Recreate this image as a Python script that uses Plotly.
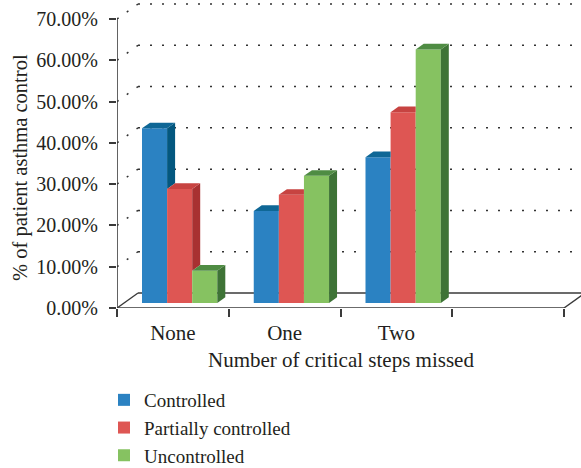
import plotly.graph_objects as go

# ---- data ----
categories = ["None", "One", "Two"]
series_names = ["Controlled", "Partially controlled", "Uncontrolled"]
controlled = [42.3, 22.3, 35.3]
partially_controlled = [27.6, 26.2, 46.2]
uncontrolled = [7.8, 30.8, 61.4]
y_ticks = [0, 10, 20, 30, 40, 50, 60, 70]
y_tick_labels = [f"{v:.2f}%" for v in y_ticks]
n_slots = 4
x_title = "Number of critical steps missed"
y_title = "% of patient asthma control"

series_values = [controlled, partially_controlled, uncontrolled]

# ---- styling / geometry (pixel based) ----
W, H = 581, 468
ML, MT, MB = 117, 0, 160
PX_X = 111.75                    # px per category slot
PLOT_H = H - MT - MB
PX_Y = 4.1286                    # px per percent
x_max = (W - ML) / PX_X
y_max = PLOT_H / PX_Y

DX, DY = 21 / PX_X, 15 / PX_Y            # full depth of floor
BDX, BDY = 7 / PX_X, 5 / PX_Y            # bar front-face depth offset
TDX, TDY = 8 / PX_X, 5.7 / PX_Y          # bar thickness
BW = 25.1 / PX_X                         # bar width
GROUP_OFF = 18 / PX_X

front_cols = ["#2B82C2", "#DE5653", "#86C261"]
top_cols = ["#0F6796", "#C74341", "#4F8C43"]
side_cols = ["#03577F", "#A83131", "#3E7336"]
txt = "#231f20"
axc = "#3a3a3a"
FONT = "Liberation Serif"
FS = 21

fig = go.Figure()

def bar_x0(c, i):
    return c + GROUP_OFF + BDX + i * BW

for i, (name, vals) in enumerate(zip(series_names, series_values)):
    fig.add_trace(go.Bar(
        x=[bar_x0(c, i) + BW / 2 for c in range(len(categories))],
        y=vals, base=BDY, width=BW, name=name,
        marker=dict(color=front_cols[i], line=dict(width=0)),
        hoverinfo="skip",
    ))

for i, vals in enumerate(series_values):
    nxt = series_values[i + 1] if i + 1 < len(series_values) else None
    for c, v in enumerate(vals):
        x0 = bar_x0(c, i)
        x1 = x0 + BW
        b = BDY
        T = b + v
        nT = b + nxt[c] if nxt is not None else None
        low = b if nT is None else max(b, nT)
        if low < T:
            fig.add_trace(go.Scatter(
                x=[x1, x1, x1 + TDX, x1 + TDX, x1],
                y=[low, T, T + TDY, low + TDY, low],
                fill="toself", fillcolor=side_cols[i], mode="lines",
                line=dict(width=0, color=side_cols[i]), showlegend=False, hoverinfo="skip"))
        if nT is not None and nT > T:
            xs = [x0, x1, x1, x0 + TDX, x0]
        else:
            xs = [x0, x1, x1 + TDX, x0 + TDX, x0]
        ys = [T, T, T + TDY, T + TDY, T]
        fig.add_trace(go.Scatter(
            x=xs, y=ys, fill="toself", fillcolor=top_cols[i], mode="lines",
            line=dict(width=0, color=top_cols[i]), showlegend=False, hoverinfo="skip"))

shapes = []
dot = "2px,10px"
for v in y_ticks[1:]:
    shapes.append(dict(type="line", xref="x", yref="y", x0=0, y0=v, x1=DX, y1=v + DY,
                       line=dict(color="#333", width=1.5, dash=dot), layer="below"))
    shapes.append(dict(type="line", xref="x", yref="y", x0=DX, y0=v + DY, x1=x_max + 1, y1=v + DY,
                       line=dict(color="#333", width=1.5, dash=dot), layer="below"))
shapes.append(dict(type="line", xref="x", yref="y", x0=0, y0=0, x1=DX, y1=DY,
                   line=dict(color=axc, width=1.4), layer="below"))
shapes.append(dict(type="line", xref="x", yref="y", x0=DX, y0=DY, x1=x_max + 1, y1=DY,
                   line=dict(color=axc, width=1.4), layer="below"))
shapes.append(dict(type="line", xref="x", yref="y", x0=n_slots, y0=0, x1=n_slots + DX, y1=DY,
                   line=dict(color=axc, width=1.4), layer="below"))
shapes.append(dict(type="line", xref="x", yref="y", x0=0, y0=0, x1=n_slots, y1=0,
                   line=dict(color=axc, width=1.6)))
shapes.append(dict(type="line", xref="x", yref="y", x0=0, y0=0, x1=0, y1=y_ticks[-1],
                   line=dict(color=axc, width=1.6)))

annotations = [
    dict(text=x_title, xref="x", yref="paper", x=n_slots / 2, y=1 - (360 - MT) / PLOT_H,
         xanchor="center", yanchor="middle", showarrow=False,
         font=dict(size=FS, family=FONT, color=txt)),
    dict(text=y_title, xref="paper", yref="paper", x=(20 - ML) / (W - ML), y=1 - (168 - MT) / PLOT_H,
         xanchor="center", yanchor="middle", showarrow=False, textangle=-90,
         font=dict(size=20.5, family=FONT, color=txt)),
]

fig.update_layout(
    width=W, height=H,
    margin=dict(l=ML, r=0, t=MT, b=MB, autoexpand=False),
    paper_bgcolor="white", plot_bgcolor="white",
    font=dict(family=FONT, color=txt, size=FS),
    barmode="overlay",
    shapes=shapes,
    annotations=annotations,
    showlegend=True,
    legend=dict(xref="container", yref="container",
                x=104 / W, y=1 - 381 / H, xanchor="left", yanchor="top",
                font=dict(size=19, family=FONT, color=txt),
                tracegroupgap=0, bgcolor="rgba(0,0,0,0)", itemwidth=30),
    xaxis=dict(range=[0, x_max], showgrid=False, zeroline=False, showline=False,
               automargin=False,
               tickmode="array",
               tickvals=[c + 0.5 for c in range(len(categories))],
               ticktext=categories, ticks="",
               ticklabelstandoff=10,
               tickfont=dict(size=FS, family=FONT, color=txt),
               minor=dict(tickmode="array", tickvals=list(range(n_slots + 1)),
                          ticks="outside", ticklen=8, tickwidth=1.6, tickcolor=axc,
                          showgrid=False),
               fixedrange=True),
    yaxis=dict(range=[0, y_max], showgrid=False, zeroline=False, showline=False,
               automargin=False,
               tickmode="array", tickvals=y_ticks, ticktext=y_tick_labels,
               ticks="outside", ticklen=7, tickwidth=1.6, tickcolor=axc,
               ticklabelstandoff=7,
               tickfont=dict(size=20, family=FONT, color=txt),
               fixedrange=True),
)

fig.write_html("out.html", config={"displayModeBar": False},
               post_script="document.body.style.margin='0';")
